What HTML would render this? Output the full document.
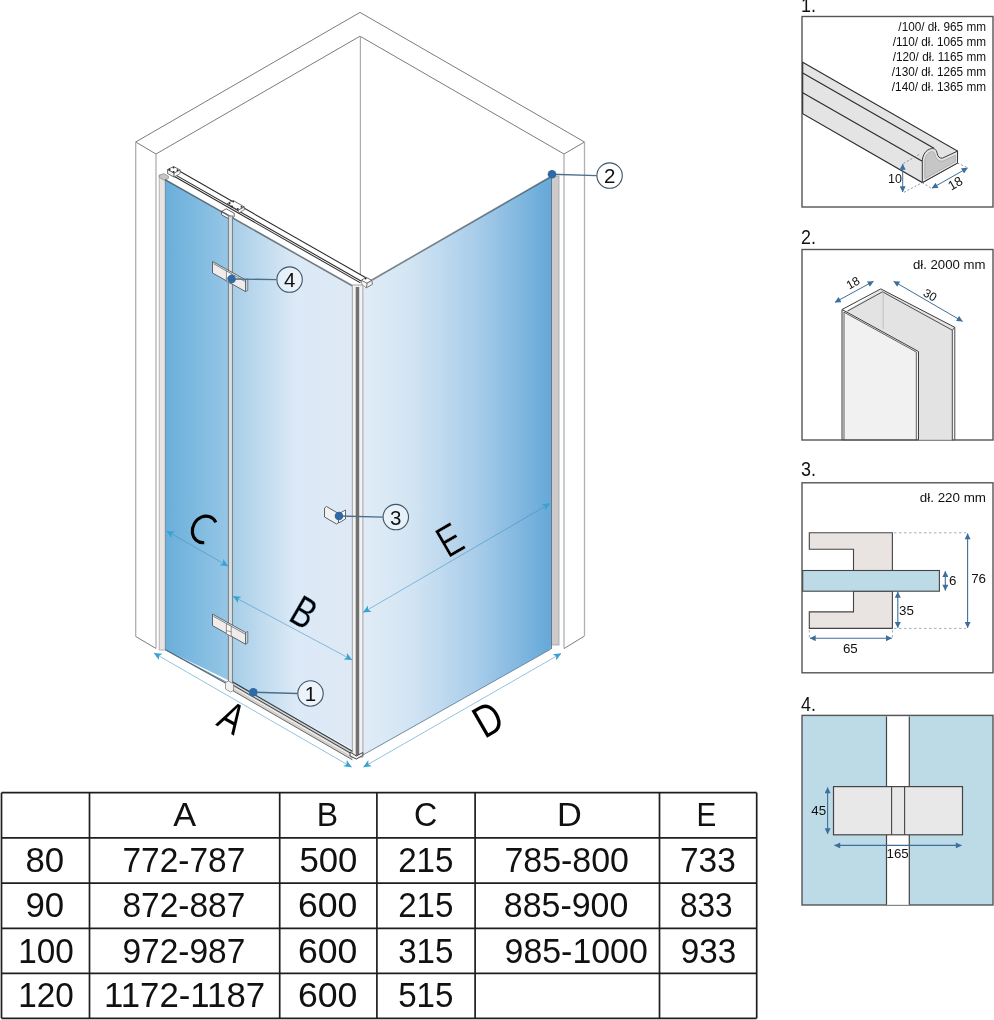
<!DOCTYPE html>
<html><head><meta charset="utf-8"><title>shower</title>
<style>
html,body{margin:0;padding:0;background:#fff;}
body{width:994px;height:1020px;overflow:hidden;position:relative;}
svg{position:absolute;left:0;top:0;font-family:"Liberation Sans",sans-serif;will-change:transform;}
</style></head><body>
<svg width="994" height="1020" viewBox="0 0 994 1020">
<defs>
<linearGradient id="gL" gradientUnits="userSpaceOnUse" x1="165" y1="0" x2="352" y2="0">
<stop offset="0" stop-color="#6aaeda"/>
<stop offset="0.18" stop-color="#80bbe0"/>
<stop offset="0.34" stop-color="#96c6e6"/>
<stop offset="0.36" stop-color="#a6cee8"/>
<stop offset="0.70" stop-color="#dce9f6"/>
<stop offset="1" stop-color="#dee9f5"/>
</linearGradient>
<linearGradient id="gR" gradientUnits="userSpaceOnUse" x1="363" y1="0" x2="551" y2="0">
<stop offset="0" stop-color="#e0ecf7"/>
<stop offset="0.25" stop-color="#d3e5f3"/>
<stop offset="0.6" stop-color="#a9cdea"/>
<stop offset="1" stop-color="#65a8d8"/>
</linearGradient>
<marker id="ar" viewBox="0 0 10 10" refX="9.5" refY="5" markerWidth="10" markerHeight="8" orient="auto-start-reverse" markerUnits="userSpaceOnUse">
<path d="M0,0.5 L10,5 L0,9.5 L2.5,5 z" fill="#38a3d0"/>
</marker>
<marker id="ad" viewBox="0 0 10 10" refX="9.5" refY="5" markerWidth="7" markerHeight="6" orient="auto-start-reverse" markerUnits="userSpaceOnUse">
<path d="M0,0 L10,5 L0,10 z" fill="#3d6f9c"/>
</marker>
</defs>
<g fill="none" stroke-width="1">
<polyline points="135.7,142 360,12.4 584.5,142" stroke="#7c7c7c"/>
<polyline points="156,154 360,36.2 564,154" stroke="#7c7c7c"/>
<line x1="135.7" y1="142" x2="156" y2="154" stroke="#7c7c7c"/><line x1="584.5" y1="142" x2="564" y2="154" stroke="#7c7c7c"/>
<line x1="135.7" y1="636.5" x2="156" y2="648.5" stroke="#7c7c7c"/><line x1="584.5" y1="636" x2="564" y2="648.6" stroke="#7c7c7c"/>
<line x1="135.7" y1="142" x2="135.7" y2="636.5" stroke="#b0b0b0" stroke-width="1.3"/>
<line x1="156" y1="154" x2="156" y2="648.5" stroke="#b0b0b0" stroke-width="1.3"/>
<line x1="584.5" y1="142" x2="584.5" y2="636" stroke="#b0b0b0" stroke-width="1.3"/>
<line x1="564" y1="154" x2="564" y2="648.6" stroke="#b0b0b0" stroke-width="1.3"/>
<line x1="360.4" y1="36.2" x2="360.4" y2="276" stroke="#ababab" stroke-width="1.2"/>
</g>
<rect x="159.2" y="175" width="6.2" height="475" fill="#e7e4e1" stroke="#a8a8a8" stroke-width="0.8"/>
<rect x="550.7" y="176" width="8.3" height="469" fill="#cdcbca" stroke="#a0a0a0" stroke-width="0.8"/>
<line x1="551.3" y1="177" x2="551.3" y2="649" stroke="#58799a" stroke-width="1.3"/>
<polygon points="165.4,178.6 352.3,285.7 352.3,749.3 233,682.5 165.4,649.8" fill="url(#gL)"/>
<polygon points="362.9,285 550.7,176.7 550.7,649.2 362.9,755" fill="url(#gR)"/>
<line x1="165.4" y1="649.8" x2="165.4" y2="179" stroke="#7a96a8" stroke-width="1.2"/>
<line x1="371.5" y1="280.3" x2="550.7" y2="176.7" stroke="#1e2a33" stroke-opacity="0.55" stroke-width="1.6"/>
<line x1="362.9" y1="755" x2="550.7" y2="649.2" stroke="#6f8da3" stroke-width="1"/>
<line x1="165.4" y1="649.8" x2="228.5" y2="683.3" stroke="#6f8da3" stroke-width="1"/>
<polygon points="165.1,179.6 167.6,169.6 173.6,166.5 180.2,170.1 365.9,277.3 372.4,280.3 372.4,284.3 366.4,287.8 352.3,285.8" fill="#ffffff"/>
<line x1="180.2" y1="171.57" x2="365.9" y2="277.79" stroke="#2a2a2a" stroke-width="1.05"/>
<line x1="174.1" y1="174.09" x2="361.4" y2="281.22" stroke="#2a2a2a" stroke-width="1.05"/>
<line x1="174.1" y1="176.29" x2="360.4" y2="282.85" stroke="#2a2a2a" stroke-width="1.05"/>
<path d="M167.6,169.6 L173.6,166.5 L180.2,170.1 L174.1,173.1 Z" fill="#fff" stroke="#444" stroke-width="0.8"/>
<path d="M167.6,169.6 L167.6,173.6 L174.1,177.1 L174.1,173.1 Z" fill="#f4f4f4" stroke="#444" stroke-width="0.8"/>
<path d="M174.1,173.1 L180.2,170.1 L180.2,173.5 L174.1,177.1 Z" fill="#f8f8f8" stroke="#444" stroke-width="0.6"/>
<circle cx="169.5" cy="169.5" r="0.9" fill="#222"/>
<circle cx="173.6" cy="167.6" r="0.9" fill="#222"/>
<circle cx="177.5" cy="170.2" r="0.9" fill="#222"/>
<circle cx="173.6" cy="172" r="0.9" fill="#222"/>
<path d="M159.2,175.6 L163.6,173.4 L168.4,176.2 L168.4,178.4 L164.4,180.2 L159.2,177.4 Z" fill="#c9c7c5" stroke="#777" stroke-width="0.6"/>
<path d="M227.2,203.6 L233.2,200.5 L244.3,206.9 L238.3,210.2 Z" fill="#fff" stroke="#444" stroke-width="0.8"/>
<path d="M238.3,210.2 L244.3,206.9 L244.3,209.8 L238.3,213.2 Z" fill="#f4f4f4" stroke="#444" stroke-width="0.6"/>
<circle cx="229.6" cy="203.4" r="0.9" fill="#222"/>
<circle cx="233.2" cy="201.6" r="0.9" fill="#222"/>
<circle cx="241.5" cy="206.8" r="0.9" fill="#222"/>
<circle cx="237.8" cy="208.9" r="0.9" fill="#222"/>
<circle cx="232" cy="206.5" r="0.9" fill="#222"/>
<path d="M221.6,211.4 L226.2,208.8 L234.2,213.2 L234.2,216.8 L229.6,219.2 L221.6,214.8 Z" fill="#fff" stroke="#444" stroke-width="0.8"/>
<line x1="221.6" y1="211.4" x2="229.6" y2="215.8" stroke="#444" stroke-width="0.6"/>
<path d="M361.4,280.3 L365.9,277.3 L371.9,280.3 L366.9,283.3 Z" fill="#fff" stroke="#444" stroke-width="0.8"/>
<path d="M366.9,283.3 L371.9,280.3 L372.4,284.3 L366.4,287.8 Z" fill="#f2f2f2" stroke="#555" stroke-width="0.8"/>
<path d="M361.4,280.3 L366.9,283.3 L366.4,287.8 L361.9,284.8 Z" fill="#f8f8f8" stroke="#555" stroke-width="0.6"/>
<circle cx="365.6" cy="278.6" r="0.9" fill="#222"/>
<line x1="165.1" y1="179.6" x2="352.3" y2="285.8" stroke="#1e2a33" stroke-opacity="0.6" stroke-width="1.6"/>
<rect x="228.4" y="216" width="4.1" height="469" fill="#d9dee2" stroke="#7d8488" stroke-width="1.1"/>
<rect x="352.3" y="285" width="10.6" height="472" fill="#f2f2f2" stroke="#9a9a9a" stroke-width="0.9"/>
<rect x="355.7" y="287" width="3.5" height="470" fill="#707070"/>
<polygon points="232.3,681.5 352.4,751 352.4,760 232.3,690.5" fill="#d3d1cf"/>
<line x1="232.3" y1="681.8" x2="352.4" y2="751.2" stroke="#2e3e4a" stroke-width="1.2"/>
<line x1="232.3" y1="684.8" x2="352.4" y2="754.2" stroke="#2f2f2f" stroke-width="0.9"/>
<line x1="232.3" y1="686.8" x2="352.4" y2="756.2" stroke="#f4f4f4" stroke-width="1"/>
<line x1="232.3" y1="690.4" x2="352.4" y2="759.8" stroke="#5e5e5e" stroke-width="0.9"/>
<polygon points="225.5,682.5 228.5,681 233.5,684 233.5,690.5 230.5,692 225.5,689" fill="#f1f1f1" stroke="#777" stroke-width="0.7"/>
<path d="M350,752 L356.3,756 L362.9,752.5 L362.9,755.5 L356.3,759 L350,756 Z" fill="#f2f2f2" stroke="#333" stroke-width="0.9"/>
<line x1="165.4" y1="649.8" x2="225.5" y2="683.1" stroke="#4d6a80" stroke-width="1.1"/>
<polygon points="212.5,261.5 245.5,279.8 245.5,291.6 212.5,273.0" fill="#f0eceb" stroke="#4f5a63" stroke-width="0.9"/>
<polyline points="213.5,263.7 245.5,281.7" fill="none" stroke="#4f5a63" stroke-width="0.7"/>
<polygon points="245.5,279.8 247.8,278.9 247.8,290.4 245.5,291.6" fill="#cfcfd3" stroke="#4f5a63" stroke-width="0.7"/>
<polygon points="226.4,271.0 231.2,273.6 231.2,283.8 226.4,281.2" fill="#f7f7f7" stroke="#666" stroke-width="0.7"/>
<line x1="226.4" y1="277.9" x2="231.2" y2="279.2" stroke="#666" stroke-width="0.6"/>
<polygon points="212.5,614.1 245.5,632.4 245.5,644.2 212.5,625.6" fill="#f0eceb" stroke="#4f5a63" stroke-width="0.9"/>
<polyline points="213.5,616.3 245.5,634.3" fill="none" stroke="#4f5a63" stroke-width="0.7"/>
<polygon points="245.5,632.4 247.8,631.5 247.8,643.0 245.5,644.2" fill="#cfcfd3" stroke="#4f5a63" stroke-width="0.7"/>
<polygon points="226.4,623.6 231.2,626.2 231.2,636.4 226.4,633.8" fill="#f7f7f7" stroke="#666" stroke-width="0.7"/>
<line x1="226.4" y1="630.5" x2="231.2" y2="631.8" stroke="#666" stroke-width="0.6"/>
<path d="M324.5,508 l2,-1.5 l12,7 l0,9 l-2,1.5 l-12,-7z" fill="#f1f1f1" stroke="#555" stroke-width="0.9"/>
<path d="M338.5,514 l7,-4 l0,9 l-7,4z" fill="#fff" stroke="#555" stroke-width="0.9"/>
<line x1="166.6" y1="531" x2="227.9" y2="566" stroke="#3a8fc0" stroke-opacity="0.6" stroke-width="0.9" marker-start="url(#ar)" marker-end="url(#ar)"/>
<line x1="233" y1="596.3" x2="351.9" y2="659.8" stroke="#3a8fc0" stroke-opacity="0.6" stroke-width="0.9" marker-start="url(#ar)" marker-end="url(#ar)"/>
<line x1="363.2" y1="612.4" x2="550" y2="503.5" stroke="#3a8fc0" stroke-opacity="0.6" stroke-width="0.9" marker-start="url(#ar)" marker-end="url(#ar)"/>
<line x1="154.1" y1="653.1" x2="351.5" y2="767" stroke="#3a8fc0" stroke-opacity="0.6" stroke-width="0.9" marker-start="url(#ar)" marker-end="url(#ar)"/>
<line x1="363.5" y1="767" x2="561" y2="653.5" stroke="#3a8fc0" stroke-opacity="0.6" stroke-width="0.9" marker-start="url(#ar)" marker-end="url(#ar)"/>
<path d="M6.25,-11.62 A11.8,13.7 0 1 0 6.25,11.62" transform="translate(204.6,529.4) rotate(30)" fill="none" stroke="#000" stroke-width="3.1"/>
<text x="0" y="0" transform="translate(304,612) rotate(30) scale(0.82,1.08)" font-size="40" text-anchor="middle" dominant-baseline="central" fill="#000" stroke="url(#gL)" stroke-width="0.35">B</text>
<text x="0" y="0" transform="translate(449.5,539.5) rotate(-30) scale(0.82,1.08)" font-size="41" text-anchor="middle" dominant-baseline="central" fill="#000" stroke="url(#gR)" stroke-width="0.35">E</text>
<text x="0" y="0" transform="translate(232,717) rotate(30) scale(0.82,1.08)" font-size="40" text-anchor="middle" dominant-baseline="central" fill="#000" stroke="#fff" stroke-width="0">A</text>
<text x="0" y="0" transform="translate(488,719.2) rotate(-30) scale(0.86,1.08)" font-size="42" text-anchor="middle" dominant-baseline="central" fill="#000" stroke="#fff" stroke-width="0">D</text>
<line x1="552" y1="174.3" x2="596.6" y2="175.6" stroke="#4b6f8a" stroke-width="1.4"/>
<circle cx="552" cy="174.3" r="4.3" fill="#2f6aa6"/>
<circle cx="609.6" cy="175.6" r="12.7" fill="#ffffff" fill-opacity="0.45" stroke="#3d5566" stroke-width="1.1"/>
<text x="609.6" y="183.0" font-size="20.5" text-anchor="middle" fill="#111">2</text>
<line x1="231.6" y1="279" x2="276.6" y2="279.6" stroke="#4b6f8a" stroke-width="1.4"/>
<circle cx="231.6" cy="279" r="4.3" fill="#2f6aa6"/>
<circle cx="289.6" cy="279.6" r="12.7" fill="#ffffff" fill-opacity="0.45" stroke="#3d5566" stroke-width="1.1"/>
<text x="289.6" y="287.0" font-size="20.5" text-anchor="middle" fill="#111">4</text>
<line x1="339" y1="516" x2="382.8" y2="517.1" stroke="#4b6f8a" stroke-width="1.4"/>
<circle cx="339" cy="516" r="4.3" fill="#2f6aa6"/>
<circle cx="395.8" cy="517.1" r="12.7" fill="#ffffff" fill-opacity="0.45" stroke="#3d5566" stroke-width="1.1"/>
<text x="395.8" y="524.5" font-size="20.5" text-anchor="middle" fill="#111">3</text>
<line x1="253.3" y1="692.2" x2="297.5" y2="693.5" stroke="#4b6f8a" stroke-width="1.4"/>
<circle cx="253.3" cy="692.2" r="4.3" fill="#2f6aa6"/>
<circle cx="310.5" cy="693.5" r="12.7" fill="#ffffff" fill-opacity="0.45" stroke="#3d5566" stroke-width="1.1"/>
<text x="310.5" y="700.9" font-size="20.5" text-anchor="middle" fill="#111">1</text>
<text x="0" y="0" transform="translate(801,12.1) scale(0.92,1)" font-size="19.5" fill="#111">1.</text>
<text x="0" y="0" transform="translate(801,243.9) scale(0.92,1)" font-size="19.5" fill="#111">2.</text>
<text x="0" y="0" transform="translate(801,476.1) scale(0.92,1)" font-size="19.5" fill="#111">3.</text>
<text x="0" y="0" transform="translate(801,710.9) scale(0.92,1)" font-size="19.5" fill="#111">4.</text>
<rect x="802" y="16.5" width="191" height="190.5" fill="#fff" stroke="#555" stroke-width="1.4"/>
<text x="0" y="0" transform="translate(986,30.80) scale(0.95,1)" font-size="12.4" text-anchor="end" fill="#111">/100/ dł. 965 mm</text>
<text x="0" y="0" transform="translate(986,45.95) scale(0.95,1)" font-size="12.4" text-anchor="end" fill="#111">/110/ dł. 1065 mm</text>
<text x="0" y="0" transform="translate(986,61.10) scale(0.95,1)" font-size="12.4" text-anchor="end" fill="#111">/120/ dł. 1165 mm</text>
<text x="0" y="0" transform="translate(986,76.25) scale(0.95,1)" font-size="12.4" text-anchor="end" fill="#111">/130/ dł. 1265 mm</text>
<text x="0" y="0" transform="translate(986,91.40) scale(0.95,1)" font-size="12.4" text-anchor="end" fill="#111">/140/ dł. 1365 mm</text>
<polygon points="802.7,62.2 957.5,151.1 957.5,163 922.3,182.6 802.7,113.8" fill="#e4e4e4" stroke="#2a2a2a" stroke-width="1.1"/>
<line x1="802.7" y1="73.1" x2="934" y2="148.2" stroke="#2a2a2a" stroke-width="1.1"/>
<line x1="802.7" y1="92.8" x2="922.3" y2="161.3" stroke="#2a2a2a" stroke-width="1.1"/>
<path d="M922.3,182.6 L922.3,161.6 C922.3,155 926,149.5 931.5,148.6 C935,148.2 936.5,150 937.2,153.5 C937.8,156.5 939.5,158.5 942.4,158.2 L957.5,151.1 L957.5,163 Z" fill="#e2e2e2" stroke="#3a3a3a" stroke-width="1"/>
<path d="M924.8,178.8 L924.8,162 C924.8,156.8 927.5,152.4 931.5,151.6 C933.6,151.3 934.6,152.6 935.2,155.2 C936.2,159.4 939,161.6 943.2,161 L955.3,155.3 L955.3,161.6 Z" fill="#c6c6c6" stroke="#9a9a9a" stroke-width="0.6"/>
<line x1="902.7" y1="164" x2="902.7" y2="192" stroke="#3d6f9c" stroke-width="1" marker-start="url(#ad)" marker-end="url(#ad)"/>
<text x="895" y="182.8" font-size="12.5" text-anchor="middle" fill="#111">10</text>
<line x1="932" y1="188.2" x2="967.5" y2="168" stroke="#3d6f9c" stroke-width="1" marker-start="url(#ad)" marker-end="url(#ad)"/>
<text x="0" y="0" transform="translate(955.3,183.3) rotate(-30)" font-size="13" text-anchor="middle" dominant-baseline="central" fill="#111">18</text>
<g stroke="#5f7f99" stroke-width="0.8" stroke-dasharray="2,2" fill="none"><line x1="904" y1="192.3" x2="922.3" y2="182.6"/><line x1="922.3" y1="182.6" x2="931" y2="188"/><line x1="957.5" y1="163" x2="967" y2="167.5"/><line x1="903.5" y1="163.4" x2="920.5" y2="153.8"/></g>
<rect x="802" y="249.5" width="191" height="190.5" fill="#fff" stroke="#555" stroke-width="1.4"/>
<text x="985.5" y="268.5" font-size="13.2" text-anchor="end" fill="#111">dł. 2000 mm</text>
<polygon points="846,311 881,289.5 954.8,327.3 954.8,439.8 846,439.8" fill="#e3e3e3"/>
<polygon points="952.3,330.2 954.8,327.3 954.8,439.8 952.3,439.8" fill="#f3f3f3" stroke="#3c3c3c" stroke-width="0.9"/>
<line x1="880.8" y1="288.9" x2="954.8" y2="327.3" stroke="#3c3c3c" stroke-width="1"/>
<line x1="882.5" y1="291.8" x2="952.3" y2="330.2" stroke="#3c3c3c" stroke-width="0.9"/>
<line x1="842" y1="309.5" x2="880.8" y2="288.9" stroke="#3c3c3c" stroke-width="1"/>
<line x1="847.6" y1="311" x2="882.5" y2="291.8" stroke="#3c3c3c" stroke-width="0.9"/>
<line x1="883.1" y1="292.5" x2="883.1" y2="329" stroke="#b5b5b5" stroke-width="0.8"/>
<polygon points="842,309.5 918.5,351.5 918.5,439.8 842,439.8" fill="#f1f1f1" stroke="#3c3c3c" stroke-width="1"/>
<line x1="844" y1="312.2" x2="916.3" y2="352" stroke="#3c3c3c" stroke-width="0.8"/>
<line x1="844" y1="312" x2="844" y2="439.8" stroke="#3c3c3c" stroke-width="0.8"/>
<line x1="916.3" y1="352" x2="916.3" y2="439.8" stroke="#3c3c3c" stroke-width="0.8"/>
<line x1="835" y1="302.3" x2="873.4" y2="281.3" stroke="#3d6f9c" stroke-width="1" marker-start="url(#ad)" marker-end="url(#ad)"/>
<line x1="893.7" y1="281.3" x2="962.5" y2="321.4" stroke="#3d6f9c" stroke-width="1" marker-start="url(#ad)" marker-end="url(#ad)"/>
<text x="0" y="0" transform="translate(853,283) rotate(-30)" font-size="12" text-anchor="middle" dominant-baseline="central" fill="#111">18</text>
<text x="0" y="0" transform="translate(930,295) rotate(30)" font-size="12" text-anchor="middle" dominant-baseline="central" fill="#111">30</text>
<rect x="802" y="482.8" width="191" height="190" fill="#fff" stroke="#555" stroke-width="1.4"/>
<text x="986" y="501.6" font-size="13.4" text-anchor="end" fill="#111">dł. 220 mm</text>
<polygon points="809.3,532.8 892.4,532.8 892.4,570.5 853.5,570.5 853.5,549.3 809.3,549.3" fill="#e9e3e2" stroke="#444" stroke-width="1.1"/>
<polygon points="853.5,591.2 892.4,591.2 892.4,628.4 809.3,628.4 809.3,611.9 853.5,611.9" fill="#e9e3e2" stroke="#444" stroke-width="1.1"/>
<rect x="802.7" y="570.5" width="136.7" height="20.7" fill="#bcdbe6" stroke="#444" stroke-width="1.1"/>
<g stroke="#8fa7b8" stroke-width="0.9" stroke-dasharray="2.5,2.5"><line x1="894" y1="532.8" x2="966" y2="532.8"/><line x1="894" y1="628.4" x2="966" y2="628.4"/><line x1="809.3" y1="630" x2="809.3" y2="640"/><line x1="892.4" y1="630" x2="892.4" y2="640"/></g>
<line x1="967.6" y1="533.5" x2="967.6" y2="627.7" stroke="#3d6f9c" stroke-width="1.1" marker-start="url(#ad)" marker-end="url(#ad)"/>
<line x1="945.3" y1="571.2" x2="945.3" y2="590.5" stroke="#3d6f9c" stroke-width="1.1" marker-start="url(#ad)" marker-end="url(#ad)"/>
<line x1="897.8" y1="592" x2="897.8" y2="627.7" stroke="#3d6f9c" stroke-width="1.1" marker-start="url(#ad)" marker-end="url(#ad)"/>
<line x1="810" y1="638.2" x2="891.7" y2="638.2" stroke="#3d6f9c" stroke-width="1.1" marker-start="url(#ad)" marker-end="url(#ad)"/>
<text x="978.6" y="582.6" font-size="13.3" text-anchor="middle" fill="#111">76</text>
<text x="952.6" y="585.2" font-size="13.3" text-anchor="middle" fill="#111">6</text>
<text x="906.5" y="614.5" font-size="13.3" text-anchor="middle" fill="#111">35</text>
<text x="850.3" y="652.5" font-size="13.3" text-anchor="middle" fill="#111">65</text>
<rect x="802" y="715.4" width="191" height="189.6" fill="#bcdbe6" stroke="#555" stroke-width="1.4"/>
<rect x="886.5" y="716.5" width="22.8" height="188.3" fill="#fff"/>
<line x1="886.5" y1="716.5" x2="886.5" y2="904.8" stroke="#444" stroke-width="1.2"/><line x1="909.3" y1="716.5" x2="909.3" y2="904.8" stroke="#444" stroke-width="1.2"/>
<rect x="886.5" y="716.5" width="22.8" height="188.3" fill="none" stroke="none"/>
<rect x="833.5" y="786.6" width="129" height="48.2" fill="#e8e8e8" stroke="#444" stroke-width="1.2"/>
<line x1="891.6" y1="786.6" x2="891.6" y2="834.8" stroke="#444" stroke-width="1.1"/>
<line x1="904.6" y1="786.6" x2="904.6" y2="834.8" stroke="#444" stroke-width="1.1"/>
<line x1="827.6" y1="787.5" x2="827.6" y2="834" stroke="#3d6f9c" stroke-width="1.1" marker-start="url(#ad)" marker-end="url(#ad)"/>
<line x1="834.5" y1="845.4" x2="961.5" y2="845.4" stroke="#3d6f9c" stroke-width="1.1" marker-start="url(#ad)" marker-end="url(#ad)"/>
<text x="818.7" y="815.4" font-size="13.3" text-anchor="middle" fill="#111">45</text>
<text x="897.6" y="858.2" font-size="13.3" text-anchor="middle" fill="#111">165</text>
<g stroke="#1e1e1e" stroke-width="1.7">
<line x1="1.5" y1="792.7" x2="1.5" y2="1018.3"/>
<line x1="89.5" y1="792.7" x2="89.5" y2="1018.3"/>
<line x1="279.7" y1="792.7" x2="279.7" y2="1018.3"/>
<line x1="376.9" y1="792.7" x2="376.9" y2="1018.3"/>
<line x1="475.1" y1="792.7" x2="475.1" y2="1018.3"/>
<line x1="659.5" y1="792.7" x2="659.5" y2="1018.3"/>
<line x1="756.7" y1="792.7" x2="756.7" y2="1018.3"/>
<line x1="1.5" y1="792.7" x2="756.7" y2="792.7"/>
<line x1="1.5" y1="837.8" x2="756.7" y2="837.8"/>
<line x1="1.5" y1="883.2" x2="756.7" y2="883.2"/>
<line x1="1.5" y1="928.4" x2="756.7" y2="928.4"/>
<line x1="1.5" y1="973.3" x2="756.7" y2="973.3"/>
<line x1="1.5" y1="1018.3" x2="756.7" y2="1018.3"/>
</g>
<text x="184.6" y="825.9" font-size="34" text-anchor="middle" fill="#111" transform="translate(-1.56,0) scale(1.0095,1)">A</text>
<text x="328.3" y="825.9" font-size="34" text-anchor="middle" fill="#111" transform="translate(19.16,0) scale(0.9389,1)">B</text>
<text x="426.0" y="825.9" font-size="34" text-anchor="middle" fill="#111" transform="translate(21.99,0) scale(0.9476,1)">C</text>
<text x="567.3" y="825.9" font-size="34" text-anchor="middle" fill="#111" transform="translate(-3.68,0) scale(1.0100,1)">D</text>
<text x="708.1" y="825.9" font-size="34" text-anchor="middle" fill="#111" transform="translate(88.84,0) scale(0.8722,1)">E</text>
<text x="45.5" y="872.0" font-size="35.5" text-anchor="middle" fill="#111" transform="translate(0.24,0) scale(0.9806,1)">80</text>
<text x="184.6" y="872.0" font-size="35.5" text-anchor="middle" fill="#111" transform="translate(9.76,0) scale(0.9433,1)">772-787</text>
<text x="328.3" y="872.0" font-size="35.5" text-anchor="middle" fill="#111" transform="translate(7.27,0) scale(0.9782,1)">500</text>
<text x="426.0" y="872.0" font-size="35.5" text-anchor="middle" fill="#111" transform="translate(28.00,0) scale(0.9339,1)">215</text>
<text x="567.3" y="872.0" font-size="35.5" text-anchor="middle" fill="#111" transform="translate(24.42,0) scale(0.9559,1)">785-800</text>
<text x="708.1" y="872.0" font-size="35.5" text-anchor="middle" fill="#111" transform="translate(40.16,0) scale(0.9429,1)">733</text>
<text x="45.5" y="917.4" font-size="35.5" text-anchor="middle" fill="#111" transform="translate(0.24,0) scale(0.9806,1)">90</text>
<text x="184.6" y="917.4" font-size="35.5" text-anchor="middle" fill="#111" transform="translate(9.76,0) scale(0.9433,1)">872-887</text>
<text x="328.3" y="917.4" font-size="35.5" text-anchor="middle" fill="#111" transform="translate(-1.79,0) scale(1.0036,1)">600</text>
<text x="426.0" y="917.4" font-size="35.5" text-anchor="middle" fill="#111" transform="translate(28.00,0) scale(0.9339,1)">215</text>
<text x="567.3" y="917.4" font-size="35.5" text-anchor="middle" fill="#111" transform="translate(23.82,0) scale(0.9559,1)">885-900</text>
<text x="708.1" y="917.4" font-size="35.5" text-anchor="middle" fill="#111" transform="translate(76.59,0) scale(0.8893,1)">833</text>
<text x="45.5" y="962.6" font-size="35.5" text-anchor="middle" fill="#111" transform="translate(3.26,0) scale(0.9389,1)">100</text>
<text x="184.6" y="962.6" font-size="35.5" text-anchor="middle" fill="#111" transform="translate(9.76,0) scale(0.9433,1)">972-987</text>
<text x="328.3" y="962.6" font-size="35.5" text-anchor="middle" fill="#111" transform="translate(-1.79,0) scale(1.0036,1)">600</text>
<text x="426.0" y="962.6" font-size="35.5" text-anchor="middle" fill="#111" transform="translate(28.00,0) scale(0.9339,1)">315</text>
<text x="567.3" y="962.6" font-size="35.5" text-anchor="middle" fill="#111" transform="translate(34.38,0) scale(0.9551,1)">985-1000</text>
<text x="708.1" y="962.6" font-size="35.5" text-anchor="middle" fill="#111" transform="translate(44.70,0) scale(0.9375,1)">933</text>
<text x="45.5" y="1007.5" font-size="35.5" text-anchor="middle" fill="#111" transform="translate(3.26,0) scale(0.9389,1)">120</text>
<text x="184.6" y="1007.5" font-size="35.5" text-anchor="middle" fill="#111" transform="translate(3.53,0) scale(0.9806,1)">1172-1187</text>
<text x="328.3" y="1007.5" font-size="35.5" text-anchor="middle" fill="#111" transform="translate(-1.79,0) scale(1.0036,1)">600</text>
<text x="426.0" y="1007.5" font-size="35.5" text-anchor="middle" fill="#111" transform="translate(28.00,0) scale(0.9339,1)">515</text>
</svg>
</body></html>
